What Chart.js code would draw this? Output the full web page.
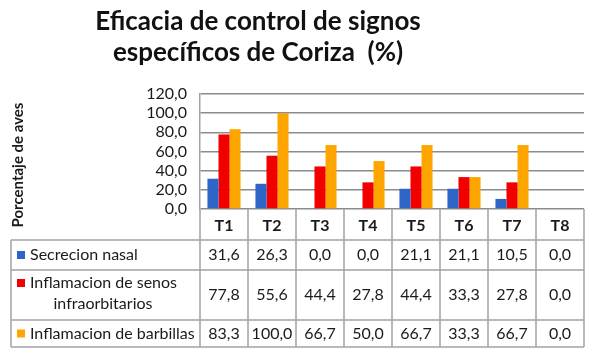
<!DOCTYPE html>
<html>
<head>
<meta charset="utf-8">
<script src="https://cdn.jsdelivr.net/npm/chart.js@4.4.1/dist/chart.umd.min.js"></script>
<style>
  body { margin: 0; background: #fff; }
  #wrap { position: relative; width: 590px; height: 354px; }
  #title {
    position: absolute; left: 0; top: 5px; width: 516px;
    text-align: center; font: bold 26px Lato, sans-serif; line-height: 31px; color: #111;
  }
</style>
</head>
<body>
<div id="wrap">
  <canvas id="chart" width="590" height="354"></canvas>
  <div id="title">Eficacia de control de signos<br>específicos de Coriza&nbsp; (%)</div>
</div>
<script>
const categories = ["T1", "T2", "T3", "T4", "T5", "T6", "T7", "T8"];
const seriesNames = ["Secrecion nasal", "Inflamacion de senos infraorbitarios", "Inflamacion de barbillas"];
const secrecion = [31.6, 26.3, 0.0, 0.0, 21.1, 21.1, 10.5, 0.0];
const senos = [77.8, 55.6, 44.4, 27.8, 44.4, 33.3, 27.8, 0.0];
const barbillas = [83.3, 100.0, 66.7, 50.0, 66.7, 33.3, 66.7, 0.0];
const colors = ["#2d65c8", "#f20000", "#ffa500"];
const yTicks = [0, 20, 40, 60, 80, 100, 120];

const fmt = (v) => v.toFixed(1).replace(".", ",");
const FONT = "Lato, sans-serif";

//--------------------------------------------------------
// data table under the plot (Excel style), columns follow the x scale
const tablePlugin = {
  id: "dataTable",
  afterDraw(chart) {
    const ctx = chart.ctx;
    const x = chart.scales.x;
    const area = chart.chartArea;
    const step = x.getPixelForValue(1) - x.getPixelForValue(0);
    const tLeft = 11;
    const rowY = [area.bottom, 240, 270, 320, 347];
    const series = chart.data.datasets;

    ctx.save();
    ctx.strokeStyle = "#a3a3a3";
    ctx.lineWidth = 1.5;
    ctx.beginPath();
    // horizontal lines
    for (let r = 1; r < rowY.length; r++) {
      ctx.moveTo(tLeft, rowY[r]);
      ctx.lineTo(area.right, rowY[r]);
    }
    // vertical lines at column edges
    for (let i = 0; i <= categories.length; i++) {
      const px = x.getPixelForValue(0) - step / 2 + i * step;
      ctx.moveTo(px, rowY[0]);
      ctx.lineTo(px, rowY[4]);
    }
    ctx.moveTo(tLeft, rowY[1]);
    ctx.lineTo(tLeft, rowY[4]);
    ctx.stroke();

    ctx.fillStyle = "#1a1a1a";
    ctx.font = "bold 16px " + FONT;
    ctx.textAlign = "center";
    ctx.textBaseline = "middle";
    categories.forEach((c, i) => ctx.fillText(c, x.getPixelForValue(i), (rowY[0] + rowY[1]) / 2 + 1));

    ctx.font = "16px " + FONT;
    series.forEach((ds, s) => {
      const cy = (rowY[s + 1] + rowY[s + 2]) / 2;
      ds.data.forEach((v, i) => ctx.fillText(fmt(v), x.getPixelForValue(i), cy));
      // legend key + label
      ctx.fillStyle = ds.backgroundColor;
      const ky = s === 1 ? cy - 12 : cy;
      ctx.fillRect(17, ky - 4, 8, 8);
      ctx.fillStyle = "#1a1a1a";
      ctx.textAlign = "left";
      if (s === 1) {
        ctx.fillText("Inflamacion de senos", 30, ky);
        ctx.textAlign = "center";
        ctx.fillText("infraorbitarios", 103, cy + 9);
      } else {
        ctx.fillText(ds.label, 30, cy);
      }
      ctx.textAlign = "center";
    });

    // y axis title
    ctx.translate(18, 165);
    ctx.rotate(-Math.PI / 2);
    ctx.font = "bold 15px " + FONT;
    ctx.fillText("Porcentaje de aves", 0, 0);
    ctx.restore();
  },
};

const ctx = document.getElementById("chart");
const config = {
  type: "bar",
  data: {
    labels: categories,
    datasets: [
      { label: seriesNames[0], data: secrecion, backgroundColor: colors[0] },
      { label: seriesNames[1], data: senos, backgroundColor: colors[1] },
      { label: seriesNames[2], data: barbillas, backgroundColor: colors[2] },
    ],
  },
  options: {
    responsive: false,
    animation: false,
    devicePixelRatio: 1,
    layout: { padding: { top: 94, bottom: 145, left: 0, right: 6 } },
    datasets: { bar: { categoryPercentage: 0.69, barPercentage: 1, borderWidth: 0 } },
    plugins: { legend: { display: false }, title: { display: false }, tooltip: { enabled: false } },
    scales: {
      x: { display: false },
      y: {
        min: 0,
        max: 120,
        afterFit: (scale) => { scale.width = 200; },
        afterBuildTicks: (scale) => { scale.ticks = yTicks.map((v) => ({ value: v })); },
        ticks: { autoSkip: false, callback: (v) => fmt(v), font: { family: FONT, size: 16 }, color: "#1a1a1a", padding: 13 },
        grid: { color: "#8c8c8c", lineWidth: 1.5, drawTicks: false },
        border: { color: "#a3a3a3", width: 1.5 },
      },
    },
  },
  plugins: [tablePlugin],
};
const chart = new Chart(ctx, config);
</script>
</body>
</html>
